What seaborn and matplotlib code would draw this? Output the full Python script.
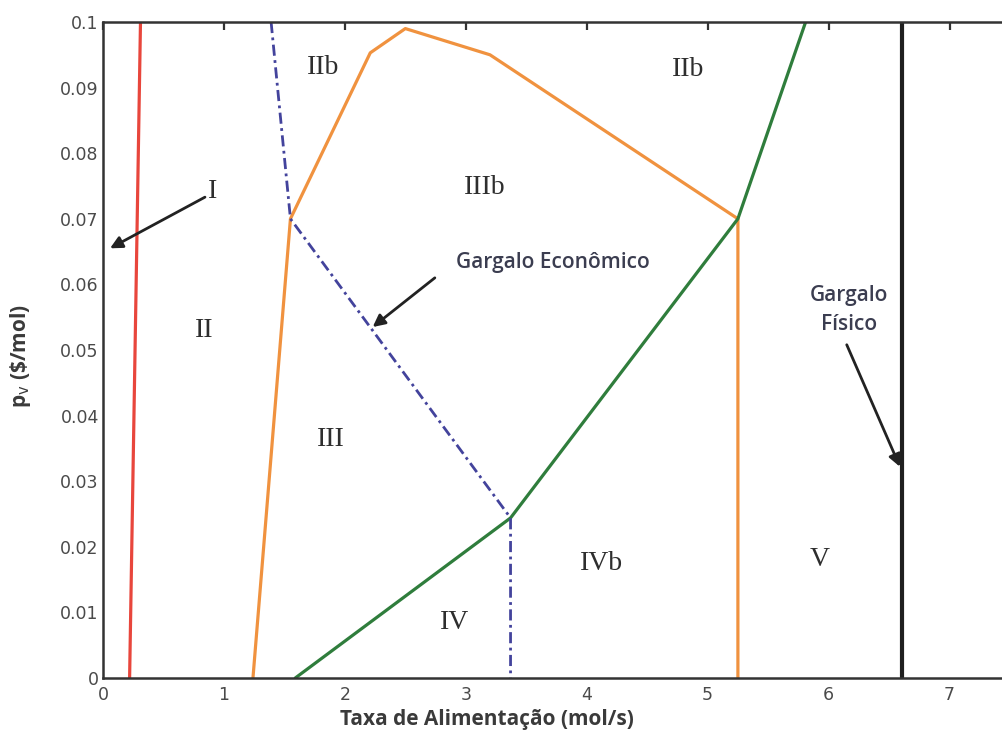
import matplotlib
matplotlib.use("Agg")
import matplotlib.pyplot as plt
import seaborn as sns
import pandas as pd

# ---- data ----
red_x = [0.22, 0.31]
red_y = [0.0, 0.1]
orange_x = [1.24, 1.55, 2.21, 2.50, 3.20, 5.25, 5.25]
orange_y = [0.0, 0.070, 0.0953, 0.099, 0.095, 0.070, 0.0]
blue_x = [1.39, 1.55, 3.37, 3.37]
blue_y = [0.1, 0.070, 0.0244, 0.0]
green_x = [1.59, 3.37, 5.25, 5.81]
green_y = [0.0, 0.0244, 0.070, 0.1]
black_x = [6.61, 6.61]
black_y = [0.0, 0.1]

x_ticks = [0, 1, 2, 3, 4, 5, 6, 7]
y_ticks = [0, 0.01, 0.02, 0.03, 0.04, 0.05, 0.06, 0.07, 0.08, 0.09, 0.1]
y_tick_labels = ["0", "0.01", "0.02", "0.03", "0.04", "0.05", "0.06", "0.07", "0.08", "0.09", "0.1"]

region_labels = ["I", "II", "IIb", "IIb", "IIIb", "III", "IVb", "IV", "V"]
region_x = [0.91, 0.84, 1.82, 4.84, 3.16, 1.88, 4.12, 2.91, 5.93]
region_y = [0.0741, 0.0530, 0.0931, 0.0927, 0.0747, 0.0363, 0.0175, 0.0084, 0.0180]

sns.set_style("white")
plt.rcParams["font.family"] = ["DejaVu Sans"]

fig = plt.figure(figsize=(10.02, 7.33), dpi=100)
ax = fig.add_axes([103 / 1002, 55 / 733, 907 / 1002, 656 / 733])

def draw(xs, ys, color, lw, ls="-"):
    df = pd.DataFrame({"x": xs, "y": ys})
    sns.lineplot(data=df, x="x", y="y", sort=False, estimator=None, ax=ax,
                 color=color, linewidth=lw, linestyle=ls)

draw(red_x, red_y, "#e8463c", 2.3)
draw(orange_x, orange_y, "#f0923f", 2.3)
draw(green_x, green_y, "#2f7d3c", 2.3)
draw(blue_x, blue_y, "#43439c", 2.0, (0, (4, 1.6, 1, 1.6)))
draw(black_x, black_y, "#1f1f1f", 3.0)

ax.set_xlim(0, 7.5)
ax.set_ylim(0, 0.1)
ax.set_xticks(x_ticks)
ax.set_xticklabels([str(t) for t in x_ticks])
ax.set_yticks(y_ticks)
ax.set_yticklabels(y_tick_labels)
ax.tick_params(direction="in", length=6, width=1.6, top=True, right=True,
               labelsize=12.5, labelcolor="#4a4a4a", color="#333333")
ax.tick_params(axis="x", pad=6)
ax.tick_params(axis="y", pad=3)
for s in ax.spines.values():
    s.set_linewidth(1.8)
    s.set_color("#333333")

ax.set_xlabel("Taxa de Alimentação (mol/s)", fontsize=15, fontweight="bold",
              color="#3a3a3a", family=["Open Sans", "DejaVu Sans"])
ax.xaxis.set_label_coords((487 - 103) / 907, -0.047)
ax.set_ylabel(r"p$_{\mathrm{v}}$ (\$/mol)", fontsize=15, fontweight="bold",
              color="#3a3a3a", family=["Open Sans", "DejaVu Sans"])
ax.yaxis.set_label_coords(-0.077, 0.49)

for lab, xx, yy in zip(region_labels, region_x, region_y):
    ax.text(xx, yy, lab, ha="center", va="center", fontsize=20,
            family=["Liberation Serif"], color="#2e2e2e")

arrow = dict(arrowstyle="-|>", color="#222222", lw=2.0, mutation_scale=18,
             shrinkA=0, shrinkB=0)
ax.annotate("", xy=(0.058, 0.0655), xytext=(0.843, 0.0733), arrowprops=arrow)
ax.annotate("", xy=(2.23, 0.0535), xytext=(2.744, 0.0610), arrowprops=arrow)
ax.annotate("", xy=(6.59, 0.0322), xytext=(6.15, 0.0508), arrowprops=arrow)

ax.text(3.72, 0.0634, "Gargalo Econômico", ha="center", va="center",
        fontsize=15, fontweight="semibold", color="#3b3d50",
        family=["Open Sans", "DejaVu Sans"])
ax.text(6.17, 0.0561, "Gargalo\nFísico", ha="center", va="center",
        fontsize=15, fontweight="semibold", color="#3b3d50",
        family=["Open Sans", "DejaVu Sans"], linespacing=1.45)

fig.savefig("out.png", dpi=100)
